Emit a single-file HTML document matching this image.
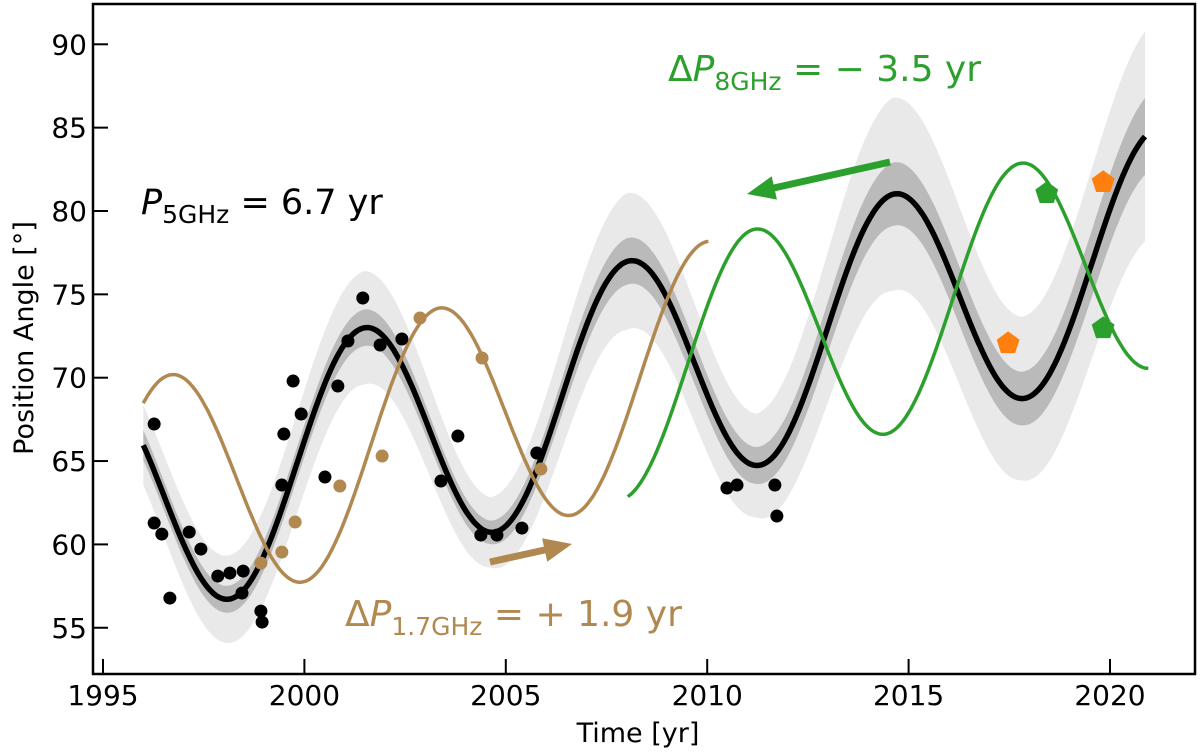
<!DOCTYPE html>
<html><head><meta charset="utf-8">
<style>
html,body{margin:0;padding:0;background:#fff;}
svg{display:block;font-family:"DejaVu Sans","Liberation Sans",sans-serif;}
</style></head>
<body>
<svg id="chart" width="1200" height="752" viewBox="0 0 1200 752" xmlns="http://www.w3.org/2000/svg">
<g id="bands"></g>
<g id="lines"></g>
<g id="points"></g>
<g id="arrows"></g>
<rect x="93" y="4" width="1102" height="670" fill="none" stroke="#000" stroke-width="2.5"/>
<g id="axes"></g>
<text transform="translate(33,338) rotate(-90)" text-anchor="middle" font-size="27">Position Angle [°]</text>
<text x="638" y="742" text-anchor="middle" font-size="27">Time [yr]</text>
<text x="141" y="214" font-size="35" fill="#000"><tspan font-style="italic">P</tspan><tspan font-size="25" dy="9">5GHz</tspan><tspan dy="-9"> = 6.7 yr</tspan></text>
<text x="668" y="81" font-size="36" fill="#2ca02c">Δ<tspan font-style="italic">P</tspan><tspan font-size="25" dy="9">8GHz</tspan><tspan dy="-9"> = − 3.5 yr</tspan></text>
<text x="345" y="626" font-size="36" fill="#b08850">Δ<tspan font-style="italic">P</tspan><tspan font-size="25" dy="9">1.7GHz</tspan><tspan dy="-9"> = + 1.9 yr</tspan></text>
</svg>
<script>
// ---- data ----
const xTicks = [1995, 2000, 2005, 2010, 2015, 2020];
const yTicks = [55, 60, 65, 70, 75, 80, 85, 90];
// model params: [offsetAt2008, slope, amplitude, period, zeroPhaseYear]
const fit5 = [69.85, 0.61, 7.12, 6.58, 2012.975];
const fit17 = [69.77, 0.6, 7.2, 6.67, 2001.65];
const fit8 = [69.88, 0.6, 7.12, 6.59, 2009.51];
const range5 = [1996.0, 2020.87];
const range17 = [1996.0, 2010.03];
const range8 = [2008.03, 2020.95];
const sigYears = [1996, 1998, 2001.5, 2004.6, 2008, 2011.2, 2014.6, 2017.8, 2020.87];
const sigLight = [2.4, 2.6, 3.4, 2.1, 4.1, 3.1, 5.8, 4.9, 6.3];
const sigDark = [0.9, 0.8, 1.1, 0.7, 1.4, 1.1, 1.9, 1.6, 2.3];
const blackYears = [1996.27,1996.27,1996.46,1996.66,1997.14,1997.43,1997.85,1998.15,1998.48,1998.45,1998.92,1998.95,1999.44,1999.49,1999.92,1999.72,2000.51,2000.83,2001.08,2001.45,2001.88,2002.42,2003.39,2003.81,2004.38,2004.78,2005.40,2005.77,2010.49,2010.74,2011.68,2011.73];
const blackPA = [67.22,61.28,60.62,56.78,60.74,59.72,58.10,58.28,58.40,57.08,56.00,55.34,63.56,66.62,67.82,69.80,64.04,69.50,72.20,74.78,71.96,72.32,63.80,66.50,60.56,60.56,60.98,65.48,63.38,63.56,63.56,61.70];
const brownYears = [1998.92,1999.44,1999.77,2000.88,2001.93,2002.87,2004.41,2005.87];
const brownPA = [58.88,59.54,61.34,63.50,65.30,73.58,71.18,64.52];
const orangeYears = [2017.47, 2019.83];
const orangePA = [72.06, 81.72];
const greenYears = [2018.43, 2019.83];
const greenPA = [81.06, 72.96];

// ---- axes ----
const X = t => 103 + (t - 1995) * 40.28;
const Y = v => 44.3 + (90 - v) * 16.67;
const NS = "http://www.w3.org/2000/svg";
function mk(tag, attrs, parent){const e=document.createElementNS(NS,tag);for(const k in attrs)e.setAttribute(k,attrs[k]);parent.appendChild(e);return e;}
const axes=document.getElementById('axes');
xTicks.forEach(t=>{
  const l=mk('line',{x1:X(t),x2:X(t),y1:674,y2:659,stroke:'#000','stroke-width':2},axes);
  
  
  const tx=mk('text',{x:X(t),y:705,'text-anchor':'middle','font-size':28},axes);
  tx.textContent=t;
  
  
});
yTicks.forEach(v=>{
  const l=mk('line',{x1:93,x2:108,y1:Y(v),y2:Y(v),stroke:'#000','stroke-width':2},axes);
  
  
  const tx=mk('text',{x:87,y:Y(v)+10,'text-anchor':'end','font-size':28},axes);
  tx.textContent=v;
  
  
});

function model(p,t){return p[0]+p[1]*(t-2008)+p[2]*Math.sin(2*Math.PI*(t-p[4])/p[3]);}
function interp(xs,ys,t){if(t<=xs[0])return ys[0];for(let i=1;i<xs.length;i++){if(t<=xs[i]){const f=(t-xs[i-1])/(xs[i]-xs[i-1]);return ys[i-1]+f*(ys[i]-ys[i-1]);}}return ys[ys.length-1];}
function grid(r){const a=[];const n=400;for(let i=0;i<=n;i++)a.push(r[0]+(r[1]-r[0])*i/n);return a;}

// bands
const bands=document.getElementById('bands');
function band(sig,fill,name){
  const g=grid(range5);
  const up=g.map(t=>X(t).toFixed(1)+','+Y(model(fit5,t)+interp(sigYears,sig,t)).toFixed(1));
  const dn=g.slice().reverse().map(t=>X(t).toFixed(1)+','+Y(model(fit5,t)-interp(sigYears,sig,t)).toFixed(1));
  const p=mk('polygon',{points:up.concat(dn).join(' '),fill:fill},bands);
  
  
}
band(sigLight,'#e9e9e9','light-uncertainty-band');
band(sigDark,'#bababa','dark-uncertainty-band');

// lines
const lines=document.getElementById('lines');
function curve(p,r,color,w,name){
  const d=grid(r).map((t,i)=>(i?'L':'M')+X(t).toFixed(1)+','+Y(model(p,t)).toFixed(1)).join('');
  const e=mk('path',{d:d,fill:'none',stroke:color,'stroke-width':w},lines);
  
  
}
curve(fit5,range5,'#000',5.5,'fit-curve-5ghz');
curve(fit17,range17,'#b08850',3.5,'fit-curve-1p7ghz');
curve(fit8,range8,'#2ca02c',3.5,'fit-curve-8ghz');

// points
const pts=document.getElementById('points');
blackYears.forEach((t,i)=>{
  const c=mk('circle',{cx:X(t),cy:Y(blackPA[i]),r:6.5,fill:'#000'},pts);
  
  
});
brownYears.forEach((t,i)=>{
  const c=mk('circle',{cx:X(t),cy:Y(brownPA[i]),r:6.5,fill:'#b08850'},pts);
  
  
});
function pent(cx,cy,r){const a=[];for(let k=0;k<5;k++){const ang=-Math.PI/2+k*2*Math.PI/5;a.push((cx+r*Math.cos(ang)).toFixed(1)+','+(cy+r*Math.sin(ang)).toFixed(1));}return a.join(' ');}
orangeYears.forEach((t,i)=>{
  const p=mk('polygon',{points:pent(X(t),Y(orangePA[i]),12),fill:'#ff7f0e'},pts);
  
  
});
greenYears.forEach((t,i)=>{
  const p=mk('polygon',{points:pent(X(t),Y(greenPA[i]),12),fill:'#2ca02c'},pts);
  
  
});

// arrows
const arr=document.getElementById('arrows');
function arrow(x1,y1,x2,y2,color,name){
  const dx=x2-x1,dy=y2-y1,L=Math.hypot(dx,dy),ux=dx/L,uy=dy/L,nx=-uy,ny=ux;
  const w=3.5,hw=12,hl=28;
  const bx=x2-ux*hl,by=y2-uy*hl;
  const P=[[x1+nx*w,y1+ny*w],[bx+nx*w,by+ny*w],[bx+nx*hw,by+ny*hw],[x2,y2],[bx-nx*hw,by-ny*hw],[bx-nx*w,by-ny*w],[x1-nx*w,y1-ny*w]];
  const p=mk('polygon',{points:P.map(q=>q[0].toFixed(1)+','+q[1].toFixed(1)).join(' '),fill:color},arr);
  
  
}
arrow(890,162,747,194,'#2ca02c','arrow-8ghz-shift');
arrow(490,562,572,544,'#b08850','arrow-1p7ghz-shift');
</script>
</body></html>
